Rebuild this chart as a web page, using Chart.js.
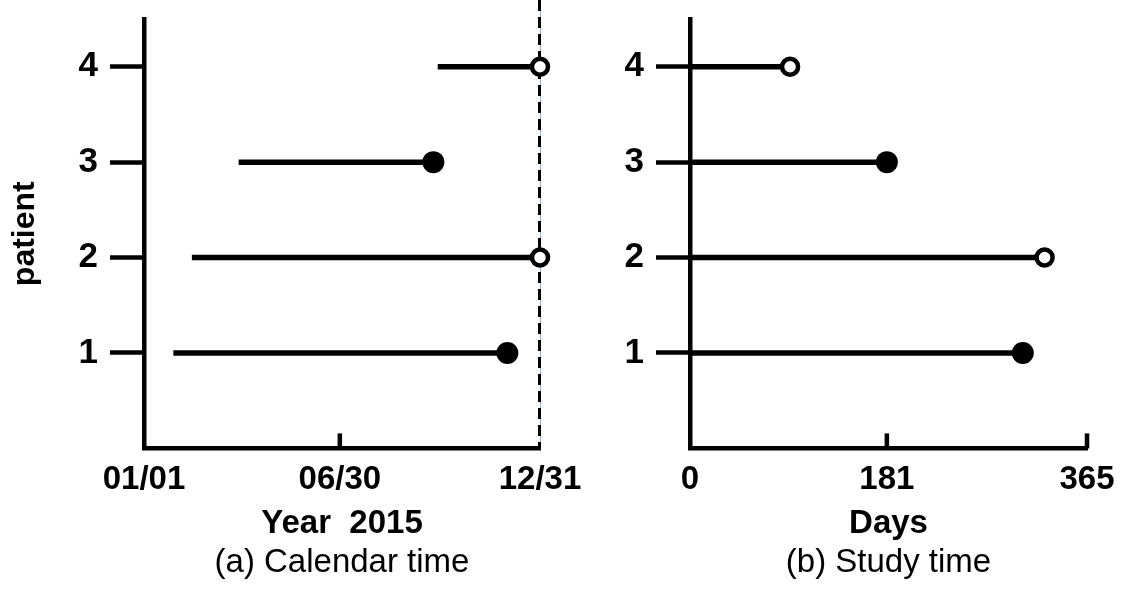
<!DOCTYPE html>
<html>
<head>
<meta charset="utf-8">
<title>Patient follow-up: calendar time vs study time</title>
<script src="https://cdn.jsdelivr.net/npm/chart.js@4.4.1/dist/chart.umd.min.js"></script>
<style>
  html, body { margin: 0; padding: 0; background: #fff; }
  #wrap { position: relative; width: 1124px; height: 592px; overflow: hidden; }
  #calendar { position: absolute; left: 0; top: 0; }
  #study { position: absolute; left: 585px; top: 0; }
</style>
</head>
<body>
<div id="wrap">
  <canvas id="calendar" width="585" height="592"></canvas>
  <canvas id="study" width="539" height="592"></canvas>
</div>
<script>
// Patients and their follow-up
const patients = [1, 2, 3, 4];
// Calendar days counted from 01/01/2015
const entryDay = [27, 44, 87, 270];
const exitDay = [334, 364, 266, 364];
// Days spent on study
const studyDays = [306, 326, 181, 92];
// 1 = event observed, 0 = censored at end of follow-up
const eventFlag = [1, 0, 1, 0];

// Axis ticks
const patientTicks = [1, 2, 3, 4];
const calendarTicks = [0, 180, 364];
const calendarLabels = ['01/01', '06/30', '12/31'];
const studyTicks = [0, 181, 365];
const studyLabels = ['0', '181', '365'];
const calendarInnerTicks = [180];
const studyInnerTicks = [181, 365];
const yearEnd = 364;

const FONT = "'Liberation Sans', Arial, Helvetica, sans-serif";
Chart.defaults.font.family = FONT;
Chart.defaults.color = '#000';

function makeDatasets(starts, ends) {
  return patients.map((p, i) => ({
    label: 'patient ' + p,
    data: [{ x: starts[i], y: p }, { x: ends[i], y: p }],
    showLine: true,
    borderColor: '#000',
    borderWidth: 5.5,
    pointRadius: [0, eventFlag[i] ? 11 : 8],
    pointHoverRadius: [0, eventFlag[i] ? 11 : 8],
    pointBorderWidth: [0, eventFlag[i] ? 0 : 4.5],
    pointBackgroundColor: eventFlag[i] ? '#000' : '#fff',
    pointBorderColor: '#000',
    clip: false
  }));
}

// Short tick marks pointing up into the plot from the x axis
const innerTicks = {
  id: 'innerTicks',
  afterDraw(chart, args, opts) {
    const xs = chart.scales.x, ctx = chart.ctx, bottom = chart.chartArea.bottom;
    ctx.save();
    ctx.strokeStyle = '#000';
    ctx.lineWidth = 4.5;
    (opts.values || []).forEach(v => {
      const px = xs.getPixelForValue(v);
      ctx.beginPath();
      ctx.moveTo(px, bottom);
      ctx.lineTo(px, bottom - opts.length);
      ctx.stroke();
    });
    ctx.restore();
  }
};

// Dashed reference line marking the end of the calendar year
const endLine = {
  id: 'endLine',
  beforeDatasetsDraw(chart, args, opts) {
    if (opts.value === undefined) return;
    const px = Math.round(chart.scales.x.getPixelForValue(opts.value));
    const bottom = chart.chartArea.bottom;
    const ctx = chart.ctx;
    ctx.save();
    ctx.strokeStyle = '#8db3dc';
    ctx.lineWidth = 1;
    ctx.beginPath();
    ctx.moveTo(px + 0.5, 0);
    ctx.lineTo(px + 0.5, bottom);
    ctx.stroke();
    ctx.strokeStyle = '#000';
    ctx.lineWidth = 3;
    ctx.setLineDash([11, 6]);
    ctx.beginPath();
    ctx.moveTo(px - 0.5, 0);
    ctx.lineTo(px - 0.5, bottom);
    ctx.stroke();
    ctx.restore();
  }
};

function makeOptions(cfg) {
  return {
    responsive: false,
    animation: false,
    devicePixelRatio: 1,
    events: [],
    layout: { padding: { left: 0, right: cfg.padRight, top: 19, bottom: 9 } },
    scales: {
      x: {
        type: 'linear',
        min: 0,
        max: cfg.xMax,
        afterBuildTicks: s => { s.ticks = cfg.xTicks.map(v => ({ value: v })); },
        afterFit: s => { s.height = 95; s.paddingLeft = 0; s.paddingRight = 0; },
        grid: { display: false, drawTicks: false },
        border: { display: true, color: '#000', width: 4.5 },
        ticks: {
          color: '#000',
          font: { size: 33, weight: 'bold' },
          padding: 12,
          maxRotation: 0,
          autoSkip: false,
          callback: v => cfg.xLabels[cfg.xTicks.indexOf(v)]
        },
        title: {
          display: true,
          text: cfg.xTitle,
          color: '#000',
          font: { size: 33, weight: 'bold' },
          padding: { top: 0, bottom: 0 }
        }
      },
      y: {
        type: 'linear',
        min: 0,
        max: 4.5,
        afterBuildTicks: s => { s.ticks = patientTicks.map(v => ({ value: v })); },
        afterFit: s => { s.width = cfg.yWidth; s.paddingTop = 0; s.paddingBottom = 0; },
        grid: { drawOnChartArea: false, drawTicks: true, tickLength: 34, tickWidth: 4.5, tickColor: '#000' },
        border: { display: true, color: '#000', width: 4.5 },
        ticks: { color: '#000', font: { size: 35, weight: 'bold' }, padding: 12 },
        title: {
          display: cfg.yTitle !== '',
          text: cfg.yTitle,
          color: '#000',
          font: { size: 32, weight: 'bold' },
          padding: { top: 6, bottom: 0 }
        }
      }
    },
    plugins: {
      legend: { display: false },
      tooltip: { enabled: false },
      title: {
        display: true,
        position: 'bottom',
        fullSize: false,
        text: cfg.caption,
        color: '#000',
        font: { size: 33, weight: 'normal' },
        padding: { top: 0, bottom: 0 }
      },
      innerTicks: { values: cfg.inner, length: 15 },
      endLine: { value: cfg.endValue }
    }
  };
}

new Chart(document.getElementById('calendar'), {
  type: 'scatter',
  data: { datasets: makeDatasets(entryDay, exitDay) },
  options: makeOptions({
    padRight: 45, yWidth: 144, xMax: 364,
    xTicks: calendarTicks, xLabels: calendarLabels, xTitle: 'Year  2015',
    yTitle: 'patient', caption: '(a) Calendar time',
    inner: calendarInnerTicks, endValue: yearEnd
  }),
  plugins: [innerTicks, endLine]
});

new Chart(document.getElementById('study'), {
  type: 'scatter',
  data: { datasets: makeDatasets(patients.map(() => 0), studyDays) },
  options: makeOptions({
    padRight: 37, yWidth: 105, xMax: 365,
    xTicks: studyTicks, xLabels: studyLabels, xTitle: 'Days',
    yTitle: '', caption: '(b) Study time',
    inner: studyInnerTicks, endValue: undefined
  }),
  plugins: [innerTicks, endLine]
});
</script>
</body>
</html>
